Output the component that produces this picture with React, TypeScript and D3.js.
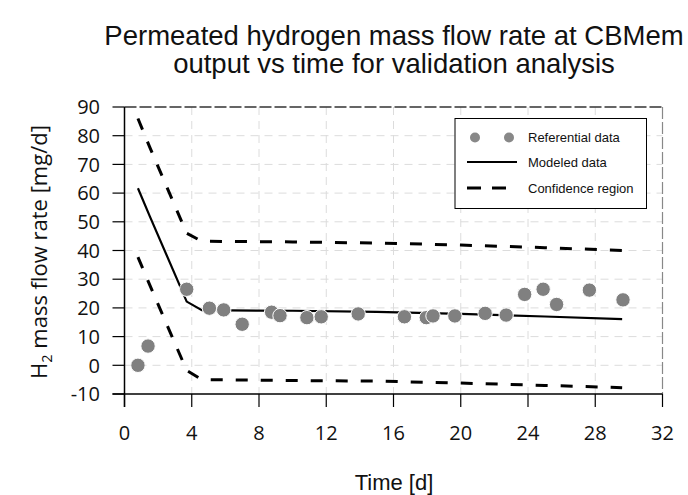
import React from "react";
import * as d3 from "d3";

const refX = [0.8, 1.4, 3.7, 5.05, 5.9, 7.0, 8.75, 9.25, 10.85, 11.7, 13.9, 16.65, 17.95, 18.35, 19.65, 21.45, 22.7, 23.8, 24.9, 25.7, 27.65, 29.65];
const refY = [0, 6.7, 26.5, 19.9, 19.3, 14.3, 18.5, 17.3, 16.6, 16.9, 17.9, 16.9, 16.6, 17.2, 17.2, 18.1, 17.5, 24.7, 26.5, 21.2, 26.2, 22.8];

const modX = [0.8, 1.5, 3.7, 4.6, 10, 15, 20, 25, 29.6];
const modY = [61.7, 52, 22.2, 19.2, 19, 18.6, 17.9, 17, 16.1];
const upY = [86, 76, 46, 43.2, 43, 42.6, 41.9, 41, 40];
const loY = [37.7, 28, -1.8, -5.0, -5.3, -5.5, -6.2, -7, -7.8];

const xTicks = [0, 4, 8, 12, 16, 20, 24, 28, 32];
const yTicks = [-10, 0, 10, 20, 30, 40, 50, 60, 70, 80, 90];

const W = 688, H = 495;
const L = 124.5, R = 662.5, T = 107, B = 394;

export default function App() {
  const x = d3.scaleLinear().domain([0, 32]).range([L, R]);
  const y = d3.scaleLinear().domain([-10, 90]).range([B, T]);
  const line = (ys: number[]) =>
    d3.line<number>().x((_, i) => x(modX[i])).y((d) => y(d))(ys) || "";
  const sans = "'Liberation Sans', Arial, sans-serif";
  const tickFont = "'Open Sans', sans-serif";
  return (
    <svg width={W} height={H} style={{ position: "absolute", left: 0, top: 0, background: "#fff" }}>
      {/* grid */}
      {yTicks.filter((t) => t > -10 && t < 90).map((t) => (
        <line key={"gy" + t} x1={L} x2={R} y1={y(t)} y2={y(t)} stroke="#dcdcdc" strokeWidth={1} strokeDasharray="8,6" />
      ))}
      {xTicks.filter((t) => t > 0 && t < 32).map((t) => (
        <line key={"gx" + t} x1={x(t)} x2={x(t)} y1={T} y2={B} stroke="#dcdcdc" strokeWidth={1} strokeDasharray="8,6" />
      ))}
      <line x1={L} x2={R} y1={y(90)} y2={y(90)} stroke="#333" strokeWidth={1.5} strokeDasharray="12,3" />
      <line x1={x(32)} x2={x(32)} y1={T} y2={B} stroke="#888" strokeWidth={1.2} strokeDasharray="12,3" />

      {/* axes */}
      <line x1={L - 12} x2={R} y1={B} y2={B} stroke="#000" strokeWidth={1.5} />
      <line x1={L} x2={L} y1={T} y2={B + 13} stroke="#000" strokeWidth={1.5} />
      {yTicks.map((t) => (
        <g key={"yt" + t}>
          <line x1={L - 12} x2={L} y1={y(t)} y2={y(t)} stroke="#000" strokeWidth={1.2} />
          <text x={100} y={y(t)} dy="0.36em" textAnchor="end" fontFamily={tickFont} fontSize={20} fill="#111">{t}</text>
        </g>
      ))}
      {xTicks.map((t) => (
        <g key={"xt" + t}>
          <line x1={x(t)} x2={x(t)} y1={B} y2={B + 13} stroke="#000" strokeWidth={1.2} />
          <text x={x(t)} y={440} textAnchor="middle" fontFamily={tickFont} fontSize={20} fill="#111">{t}</text>
        </g>
      ))}

      {/* series */}
      <path d={line(upY)} fill="none" stroke="#000" strokeWidth={3} strokeDasharray="12,13" />
      <path d={line(loY)} fill="none" stroke="#000" strokeWidth={3} strokeDasharray="12,13" />
      <path d={line(modY)} fill="none" stroke="#000" strokeWidth={2.2} />
      {refX.map((v, i) => (
        <circle key={"p" + i} cx={x(v)} cy={y(refY[i])} r={7.2} fill="#808080" stroke="#fff" strokeWidth={1} />
      ))}

      {/* legend */}
      <rect x={455} y={118.5} width={191.5} height={90} fill="#fff" stroke="#000" strokeWidth={1} />
      <circle cx={475} cy={137.5} r={5} fill="#888" />
      <circle cx={509} cy={137.5} r={5} fill="#888" />
      <line x1={467} x2={517} y1={162} y2={162} stroke="#000" strokeWidth={2} />
      <line x1={467} x2={517} y1={188} y2={188} stroke="#000" strokeWidth={3} strokeDasharray="14,11" />
      <text x={528} y={137.5} dy="0.35em" fontFamily={sans} fontSize={13} fill="#111">Referential data</text>
      <text x={528} y={162} dy="0.35em" fontFamily={sans} fontSize={13} fill="#111">Modeled data</text>
      <text x={528} y={188} dy="0.35em" fontFamily={sans} fontSize={13} fill="#111">Confidence region</text>

      {/* titles */}
      <text x={394} y={45} textAnchor="middle" fontFamily={sans} fontSize={27.5} fill="#111">Permeated hydrogen mass flow rate at CBMem</text>
      <text x={394} y={73} textAnchor="middle" fontFamily={sans} fontSize={27.5} fill="#111">output vs time for validation analysis</text>
      <text x={394} y={490} textAnchor="middle" fontFamily={sans} fontSize={22} fill="#111">Time [d]</text>
      <text transform={`translate(47,252) rotate(-90)`} textAnchor="middle" fontFamily={tickFont} fontSize={22} fill="#111">
        H<tspan fontSize={14.5} dy={5}>2</tspan><tspan dy={-5}> mass flow rate [mg/d]</tspan>
      </text>
    </svg>
  );
}
